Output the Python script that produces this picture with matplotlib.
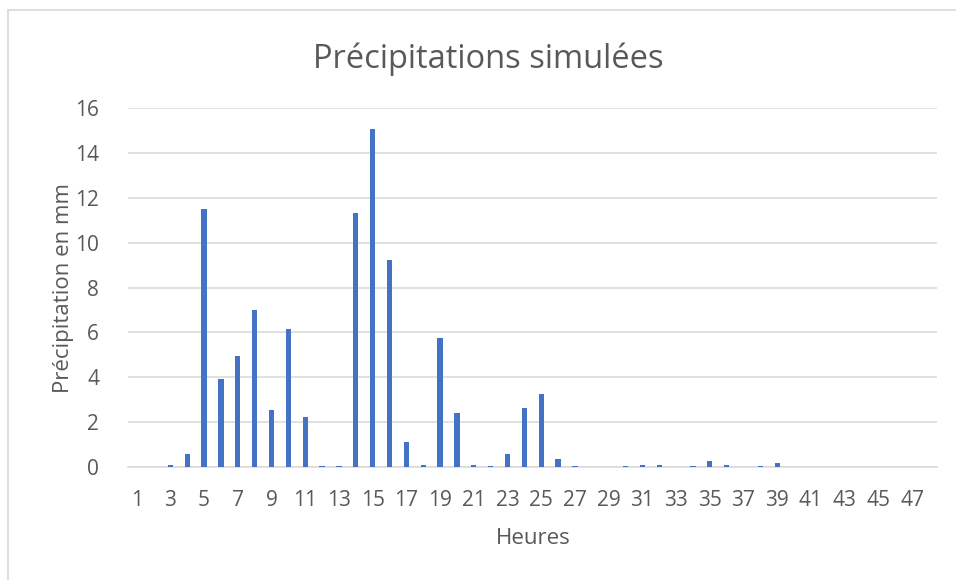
import numpy as np
import matplotlib.pyplot as plt
from matplotlib.lines import Line2D

plt.rcParams['font.family'] = ['Open Sans', 'DejaVu Sans']

# Précipitations simulées, heure par heure (mm)
heures = list(range(1, 49))
precip = [0.0, 0.0, 0.07, 0.57, 11.5, 3.92, 4.93, 7.0, 2.53, 6.15,
          2.2, 0.02, 0.02, 11.31, 15.07, 9.21, 1.09, 0.08, 5.74, 2.4,
          0.08, 0.02, 0.57, 2.62, 3.25, 0.34, 0.02, 0.0, 0.0, 0.02,
          0.06, 0.06, 0.0, 0.02, 0.24, 0.08, 0.0, 0.03, 0.15, 0.0,
          0.0, 0.0, 0.0, 0.0, 0.0, 0.0, 0.0, 0.0]
y_ticks = [0, 2, 4, 6, 8, 10, 12, 14, 16]

gris_txt = "#595959"
gris_ligne = "#d9d9d9"

fig = plt.figure(figsize=(9.56, 5.80), dpi=100)
ax = fig.add_axes([0.1341, 0.1953, 0.8464, 0.618])

x = np.arange(len(heures))
ax.bar(x, precip, width=0.32, color="#4472C4", zorder=3)

ax.set_xlim(-0.5, len(heures) - 0.5)
ax.set_ylim(0, 16)
ax.set_yticks(y_ticks)
ax.set_yticklabels([str(v) for v in y_ticks])
ax.set_xticks(x[::2])
ax.set_xticklabels([str(h) for h in heures[::2]])
ax.tick_params(axis="both", length=0, labelsize=15, labelcolor=gris_txt)
ax.tick_params(axis="y", pad=21)
ax.tick_params(axis="x", pad=17)

ax.yaxis.grid(True, color=gris_ligne, linewidth=1.1, zorder=0)
for side in ["top", "right", "left"]:
    ax.spines[side].set_visible(False)
ax.spines["bottom"].set_color(gris_ligne)
ax.spines["bottom"].set_linewidth(1.1)

ax.set_xlabel("Heures", fontsize=16, color=gris_txt, labelpad=12)
ax.set_ylabel("Précipitation en mm", fontsize=16, color=gris_txt, labelpad=1)
fig.text(0.511, 0.898, "Précipitations simulées", ha="center", va="center",
         fontsize=23.5, color=gris_txt)

# cadre du graphique
fig.add_artist(Line2D([7.5 / 956, 7.5 / 956], [0, 1 - 9.5 / 580], color=gris_ligne, lw=1.2))
fig.add_artist(Line2D([7.5 / 956, 1], [1 - 9.5 / 580, 1 - 9.5 / 580], color=gris_ligne, lw=1.2))

fig.savefig("out.png", dpi=100, facecolor="white")
